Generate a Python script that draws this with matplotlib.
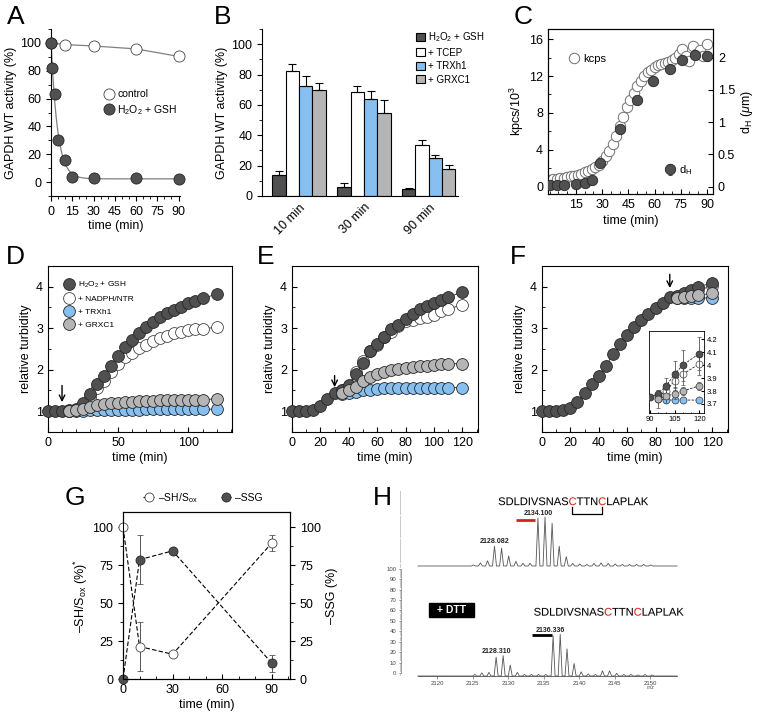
import numpy as np
import matplotlib
matplotlib.use("Agg")
import matplotlib.pyplot as plt
from matplotlib.ticker import MultipleLocator, FuncFormatter
from matplotlib.patches import Rectangle, PathPatch
from matplotlib.path import Path
from matplotlib.textpath import TextPath
from matplotlib.font_manager import FontProperties
from matplotlib.transforms import Affine2D

plt.rcParams['font.family'] = ['Liberation Sans', 'DejaVu Sans']
plt.rcParams['mathtext.fontset'] = 'custom'
plt.rcParams['mathtext.rm'] = 'Liberation Sans'
plt.rcParams['mathtext.it'] = 'Liberation Sans:italic'
plt.rcParams['axes.linewidth'] = 0.8
plt.rcParams['xtick.labelsize'] = 9
plt.rcParams['ytick.labelsize'] = 9
plt.rcParams['axes.labelsize'] = 9
plt.rcParams['xtick.major.size'] = 3.5
plt.rcParams['ytick.major.size'] = 3.5
plt.rcParams['xtick.minor.size'] = 2
plt.rcParams['ytick.minor.size'] = 2

# Colors
DARK = '#505050'
BLUE = '#86bff0'
GRAY = '#b5b5b5'
EDGE = '#262626'
RED = '#e3231c'

#
# Data
#

# A: GAPDH activity
a_t_ctrl = [0, 10, 30, 60, 90]
a_ctrl = [100, 98.8, 97.8, 95.7, 90.3]
a_t_gsh = [0, 1, 2.5, 5, 10, 15, 30, 60, 90]
a_gsh = [100, 82, 63.5, 30.4, 15.9, 3.9, 3.1, 3.1, 1.9]

# B: recovery of activity
b_groups = ['10 min', '30 min', '90 min']
b_names = [r'H$_2$O$_2$ + GSH', '+ TCEP', '+ TRXh1', '+ GRXC1']
b_gsh = [13.7, 6.2, 4.6]
b_gsh_err = [2.8, 2.4, 0.9]
b_tcep = [82.6, 68.3, 33.3]
b_tcep_err = [4.6, 4.2, 3.3]
b_trx = [72.2, 63.7, 25.3]
b_trx_err = [6.8, 5.7, 1.6]
b_grx = [69.8, 55.0, 17.8]
b_grx_err = [4.4, 8.2, 2.7]

# C: light scattering and hydrodynamic diameter
c_t = [0, 2, 4, 6, 8, 10, 12, 14, 16, 18, 20, 22, 24, 26, 28, 30, 32, 34, 36, 38,
       40, 42, 44, 46, 48, 50, 52, 54, 56, 58, 60, 62, 64, 66, 68, 70, 72, 74, 76,
       78, 80, 82, 84, 86, 88, 90]
c_kcps = [0.7, 0.8, 0.85, 0.9, 0.95, 1.0, 1.1, 1.2, 1.3, 1.4, 1.55, 1.7, 1.9, 2.1,
          2.4, 2.8, 3.3, 3.9, 4.6, 5.5, 6.6, 7.6, 8.6, 9.4, 10.2, 10.9, 11.5, 12.0,
          12.4, 12.7, 13.0, 13.2, 13.3, 13.4, 13.5, 13.7, 13.9, 14.4, 14.9, 14.2,
          13.6, 15.3, 14.4, 14.8, 14.2, 15.5]
c_dh_t = [0, 4, 8, 15, 20, 24, 29, 40, 50, 59, 69, 76, 83, 90]
c_dh = [0.03, 0.03, 0.03, 0.04, 0.06, 0.1, 0.37, 0.9, 1.35, 1.64, 1.83, 1.97, 2.04, 2.02]
c_dh_err = [0, 0, 0, 0, 0, 0, 0, 0.03, 0.02, 0.02, 0.06, 0.05, 0.04, 0.07]

# D-F: turbidity, sampled every 5 min then at 120
turb_t = [0, 5, 10, 15, 20, 25, 30, 35, 40, 45, 50, 55, 60, 65, 70, 75, 80, 85, 90,
          95, 100, 105, 110, 120]

d_gsh = [1.0, 1.0, 1.0, 1.02, 1.05, 1.2, 1.42, 1.65, 1.85, 2.08, 2.32, 2.55, 2.72,
         2.88, 3.02, 3.15, 3.27, 3.37, 3.45, 3.52, 3.6, 3.65, 3.72, 3.82]
d_ntr = [1.0, 1.03, 1.15, 1.35, 1.55, 1.72, 1.95, 2.15, 2.3, 2.4, 2.52, 2.6, 2.7,
         2.77, 2.82, 2.88, 2.92, 2.95, 2.97, 2.99, 3.02]
d_trx = [1.0, 1.0, 1.0, 1.02, 1.03, 1.03, 1.04, 1.04, 1.04, 1.04, 1.04, 1.05, 1.05,
         1.05, 1.05, 1.05, 1.05, 1.05, 1.05, 1.05, 1.05]
d_grx = [1.0, 1.02, 1.05, 1.1, 1.14, 1.17, 1.19, 1.21, 1.22, 1.23, 1.24, 1.25, 1.25,
         1.26, 1.26, 1.27, 1.27, 1.28, 1.28, 1.28, 1.3]

e_gsh = [1.0, 1.0, 1.0, 1.02, 1.12, 1.29, 1.45, 1.5, 1.63, 1.89, 2.17, 2.45, 2.62,
         2.8, 2.97, 3.09, 3.22, 3.35, 3.46, 3.54, 3.62, 3.69, 3.75, 3.87]
e_ntr = [1.5, 1.62, 1.95, 2.22, 2.45, 2.6, 2.78, 2.92, 3.05, 3.17, 3.21, 3.25, 3.27,
         3.33, 3.41, 3.46, 3.57]
e_trx = [1.42, 1.44, 1.47, 1.5, 1.52, 1.54, 1.55, 1.55, 1.56, 1.56, 1.56, 1.56, 1.56,
         1.57, 1.57, 1.57, 1.57]
e_grx = [1.45, 1.5, 1.58, 1.73, 1.83, 1.9, 1.95, 2.0, 2.03, 2.05, 2.07, 2.09, 2.1,
         2.11, 2.13, 2.14, 2.15]

f_gsh = [1.0, 1.0, 1.0, 1.02, 1.08, 1.22, 1.43, 1.65, 1.85, 2.1, 2.37, 2.62, 2.83,
         3.03, 3.21, 3.35, 3.49, 3.62, 3.75, 3.78, 3.84, 3.93, 4.0, 4.09]
f_ntr = [3.76, 3.8, 3.88, 3.93, 4.01]
f_trx = [3.74, 3.73, 3.73, 3.73, 3.73]
f_grx = [3.74, 3.76, 3.78, 3.8, 3.84]
f_gsh_err = [0.03, 0.06, 0.1, 0.12, 0.13]
f_ntr_err = [0.03, 0.05, 0.07, 0.08, 0.09]
f_trx_err = [0.01, 0.01, 0.01, 0.01, 0.01]
f_grx_err = [0.07, 0.05, 0.04, 0.03, 0.03]

# G: thiol / glutathionylation state
g_t = [0, 10, 30, 90]
g_sh = [100, 21.4, 16.3, 89.6]
g_sh_err = [0, 16.3, 0, 5.5]
g_ssg = [0, 78.6, 84.4, 10.4]
g_ssg_err = [0, 16.3, 0, 5.7]

# H: MALDI spectra (peak m/z and relative height in %)
h_top_mz = [2125.1, 2126.1, 2127.1, 2128.08, 2129.08, 2130.08, 2131.1, 2132.1, 2133.1,
            2134.2, 2135.2, 2136.2, 2137.2, 2138.2, 2139.1, 2140.1, 2141.1, 2142.1,
            2143.1, 2144.1, 2145.1, 2146.1, 2147.1, 2148.1, 2149.1, 2150.1]
h_top_int = [1, 3, 5, 19, 17, 9.6, 4.5, 2.5, 2.5, 46, 47, 41, 19, 9, 2.5, 2, 1.5, 2.5,
             3, 2.5, 2, 1.5, 1.5, 1.5, 1.5, 1]
h_bot_mz = [2125.3, 2126.3, 2127.3, 2128.31, 2129.3, 2130.3, 2131.3, 2132.3, 2133.3,
            2134.3, 2135.3, 2136.34, 2137.34, 2138.3, 2139.3, 2140.3, 2141.3, 2142.3,
            2143.3, 2144.3, 2145.3, 2146.3, 2147.3, 2148.3, 2149.3, 2150.3]
h_bot_int = [1.5, 3, 3.5, 18, 19.5, 10.5, 3.5, 1.5, 1.5, 1.5, 1.5, 38.5, 40, 26, 12,
             4, 2, 1.5, 5, 5, 2.5, 1.5, 1.5, 1, 1.5, 1]
h_seq = ['SDLDIVSNAS', 'C', 'TTN', 'C', 'LAPLAK']
H_TOP_BASE = 102.6

W, H = 763, 722
DPI = 100


def rect(l, t, r, b):
    # pixel box (left, top, right, bottom) -> figure fraction
    return [l / W, 1 - b / H, (r - l) / W, (b - t) / H]


def exp_fit(t, y):
    # y = A*exp(-k t) + c, k by grid search, A and c by least squares
    best = None
    for k in np.linspace(0.01, 1.0, 500):
        M = np.column_stack([np.exp(-k * t), np.ones_like(t)])
        coef = np.linalg.lstsq(M, y, rcond=None)[0]
        r = np.sum((M @ coef - y) ** 2)
        if best is None or r < best[0]:
            best = (r, k, coef)
    return best[1], best[2]


def circles(ax, x, y, face, ms=8.5, zorder=3, **kw):
    return ax.plot(x, y, 'o', ms=ms, mfc=face, mec=EDGE if face != 'white' else '#444',
                   mew=0.6, zorder=zorder, clip_on=False, **kw)


def panel_letter(x, y, s):
    fig.text(x / W, 1 - y / H, s, fontsize=19, ha='center', va='center')


fig = plt.figure(figsize=(W / DPI, H / DPI), dpi=DPI)

#
# A
#
ax = fig.add_axes(rect(51, 29, 180, 196))
ax.spines[['top', 'right']].set_visible(False)
t_fit = np.linspace(0, 90, 300)
k, coef = exp_fit(np.array(a_t_gsh, float), np.array(a_gsh, float))
ax.plot(t_fit, coef[0] * np.exp(-k * t_fit) + coef[1], color='#808080', lw=0.9, zorder=1)
ax.plot(a_t_ctrl, a_ctrl, color='#808080', lw=0.9, zorder=1)
circles(ax, a_t_ctrl, a_ctrl, 'white', ms=8, label='control')
circles(ax, a_t_gsh, a_gsh, DARK, ms=8, label=r'H$_2$O$_2$ + GSH')
ax.set_xlim(0, 91)
ax.set_ylim(-10, 110)
ax.xaxis.set_major_locator(MultipleLocator(15))
ax.xaxis.set_minor_locator(MultipleLocator(5))
ax.yaxis.set_major_locator(MultipleLocator(20))
ax.yaxis.set_minor_locator(MultipleLocator(10))
ax.set_yticks(range(0, 101, 20))
ax.set_xlabel('time (min)', labelpad=2)
ax.set_ylabel('GAPDH WT activity (%)', labelpad=2)
ax.legend(loc='upper left', bbox_to_anchor=(0.36, 0.67), frameon=False, fontsize=7.5,
          handletextpad=0.2, handlelength=1.2, borderpad=0, labelspacing=0.35)

#
# B
#
ax = fig.add_axes(rect(262, 29, 458, 196))
ax.spines[['top', 'right']].set_visible(False)
x = np.arange(len(b_groups))
bw = 0.205
series = [(b_gsh, b_gsh_err, DARK), (b_tcep, b_tcep_err, 'white'),
          (b_trx, b_trx_err, BLUE), (b_grx, b_grx_err, GRAY)]
for i, (vals, err, col) in enumerate(series):
    ax.bar(x + (i - 1.5) * bw, vals, bw, color=col, edgecolor='black', lw=0.8,
           yerr=[np.zeros(len(err)), err], error_kw=dict(lw=0.8, capsize=3, capthick=0.8),
           label=b_names[i])
ax.set_xlim(-0.57, 2.45)
ax.set_ylim(0, 110)
ax.set_yticks(range(0, 101, 20))
ax.yaxis.set_minor_locator(MultipleLocator(10))
ax.set_xticks(x)
ax.set_xticklabels(b_groups, rotation=45, ha='right', rotation_mode='anchor')
ax.tick_params(axis='x', length=0, pad=4)
ax.set_ylabel('GAPDH WT activity (%)', labelpad=2)
ax.legend(loc='upper left', bbox_to_anchor=(0.76, 1.02), frameon=False, fontsize=7,
          handlelength=0.9, handleheight=0.9, handletextpad=0.4, labelspacing=0.35,
          borderpad=0)

#
# C
#
ax = fig.add_axes(rect(548, 29, 713, 194))
ax2 = ax.twinx()
l1, = ax.plot(c_t, c_kcps, 'o', ms=7.5, mfc='white', mec='#707070', mew=0.7,
              zorder=2, label='kcps')
ax2.errorbar(c_dh_t, c_dh, yerr=c_dh_err, fmt='o', ms=7.5, mfc=DARK, mec=EDGE, mew=0.6,
             ecolor='#333', elinewidth=0.7, capsize=1.5, zorder=3, label=r'd$_{\rm H}$')
ax.set_xlim(-1, 93.5)
ax.set_ylim(-0.8, 17.1)
ax2.set_ylim(-0.8 / 7, 17.1 / 7)
ax.xaxis.set_major_locator(MultipleLocator(15))
ax.xaxis.set_minor_locator(MultipleLocator(5))
ax.set_xticks(range(15, 91, 15))
ax.yaxis.set_major_locator(MultipleLocator(4))
ax.yaxis.set_minor_locator(MultipleLocator(2))
ax2.yaxis.set_major_locator(MultipleLocator(0.5))
ax2.yaxis.set_major_formatter(FuncFormatter(lambda v, p: f'{v:g}'))
ax.tick_params(which='both', direction='in')
ax2.tick_params(which='both', direction='in')
ax.set_xlabel('time (min)', labelpad=3)
ax.set_ylabel(r'kpcs/10$^3$', labelpad=2)
ax2.set_ylabel(r'd$_{\rm H}$ ($\mu$m)', labelpad=3)
ax.legend(handles=[l1], loc='center left', bbox_to_anchor=(0.09, 0.82), frameon=False,
          fontsize=8, handlelength=1.0, handletextpad=0.3, borderpad=0)
ax2.legend(loc='center left', bbox_to_anchor=(0.67, 0.145), frameon=False,
           fontsize=8, handlelength=1.0, handletextpad=0.3, borderpad=0)

#
# D-F
#


def turbidity(box, gsh, ntr, trx, grx, start, arrow, xmajor, legend=False):
    ax = fig.add_axes(rect(*box))
    t_add = turb_t[start:]
    kw = dict(color='#222', lw=0.6)
    ax.plot(t_add, ntr, **kw, zorder=2)
    circles(ax, t_add, ntr, 'white', zorder=2, label='+ NADPH/NTR')
    ax.plot(turb_t, gsh, **kw, zorder=3)
    circles(ax, turb_t, gsh, DARK, zorder=3, label=r'H$_2$O$_2$ + GSH')
    ax.plot(t_add, trx, **kw, zorder=4)
    circles(ax, t_add, trx, BLUE, zorder=4, label='+ TRXh1')
    ax.plot(t_add, grx, **kw, zorder=5)
    circles(ax, t_add, grx, GRAY, zorder=5, label='+ GRXC1')
    ax.annotate('', xy=(arrow[0], arrow[2]), xytext=(arrow[0], arrow[1]),
                arrowprops=dict(arrowstyle='->', lw=1.0, color='black',
                                shrinkA=0, shrinkB=0))
    ax.set_xlim(0, 131)
    ax.set_ylim(0.5, 4.5)
    ax.xaxis.set_major_locator(MultipleLocator(xmajor))
    ax.xaxis.set_minor_locator(MultipleLocator(10))
    ax.yaxis.set_major_locator(MultipleLocator(1))
    ax.yaxis.set_minor_locator(MultipleLocator(0.5))
    ax.tick_params(which='both', direction='in')
    ax.set_xlabel('time (min)', labelpad=2)
    ax.set_ylabel('relative turbidity', labelpad=3)
    if legend:
        h, lab = ax.get_legend_handles_labels()
        order = [1, 0, 2, 3]
        ax.legend([h[i] for i in order], [lab[i] for i in order], loc='upper left',
                  bbox_to_anchor=(0.07, 0.94), frameon=False, fontsize=6,
                  handlelength=1.0, handletextpad=0.5, labelspacing=0.6, borderpad=0)
    return ax


turbidity((48, 266, 232, 432), d_gsh, d_ntr, d_trx, d_grx, 3, (10, 1.62, 1.22), 50,
          legend=True)
turbidity((292, 266, 478, 432), e_gsh, e_ntr, e_trx, e_grx, 7, (30, 1.86, 1.58), 20)
turbidity((542, 266, 728, 432), f_gsh, f_ntr, f_trx, f_grx, 19, (90, 4.3, 3.97), 20)

# F inset
ins = fig.add_axes(rect(649, 331, 704, 413))
t_in = turb_t[18:]
t_add = turb_t[19:]
ekw = dict(ecolor='#555', elinewidth=0.6, capsize=1.5, capthick=0.6, ms=5, mew=0.5,
           ls=(0, (3, 1.5)), lw=0.6, color='#222')
ins.errorbar(t_add, f_ntr, yerr=f_ntr_err, fmt='o', mfc='white', mec='#444', zorder=2, **ekw)
ins.errorbar(t_in, f_gsh[18:], yerr=[0] + f_gsh_err, fmt='o', mfc=DARK, mec=EDGE,
             zorder=3, **ekw)
ins.errorbar(t_add, f_trx, yerr=f_trx_err, fmt='o', mfc=BLUE, mec='#333', zorder=4, **ekw)
ins.errorbar(t_add, f_grx, yerr=f_grx_err, fmt='o', mfc=GRAY, mec='#333', zorder=5, **ekw)
ins.set_xlim(89.6, 122.8)
ins.set_ylim(3.63, 4.264)
ins.set_xticks([90, 105, 120])
ins.xaxis.set_minor_locator(MultipleLocator(5))
ins.yaxis.tick_right()
ins.set_yticks([3.7, 3.8, 3.9, 4.0, 4.1, 4.2])
ins.yaxis.set_major_formatter(FuncFormatter(lambda v, p: f'{v:g}'))
ins.tick_params(which='both', direction='in', labelsize=5.5, length=2, pad=2)
ins.tick_params(which='minor', length=1)
for s in ins.spines.values():
    s.set_linewidth(0.6)

#
# G
#
ax = fig.add_axes(rect(123, 512, 290, 679))
ax.errorbar(g_t, g_sh, yerr=g_sh_err, fmt='o', ms=6.5, mfc='white', mec='#444', mew=0.6,
            color='black', ls=(0, (4, 2)), lw=0.8, ecolor='#555', elinewidth=0.7,
            capsize=2.5, capthick=0.7, clip_on=False, zorder=3, label='\u2013SH/S$_{\\rm ox}$')
ax.errorbar(g_t, g_ssg, yerr=g_ssg_err, fmt='o', ms=6.5, mfc=DARK, mec=EDGE, mew=0.6,
            color='black', ls=(0, (4, 2)), lw=0.8, ecolor='#555', elinewidth=0.7,
            capsize=2.5, capthick=0.7, clip_on=False, zorder=3, label='\u2013SSG')
ax.set_xlim(0, 101)
ax.set_ylim(0, 110)
ax.set_xticks([0, 30, 60, 90])
ax.xaxis.set_minor_locator(MultipleLocator(10))
ax.set_yticks([0, 25, 50, 75, 100])
ax.yaxis.set_minor_locator(MultipleLocator(12.5))
ax.tick_params(axis='x', which='both', direction='in', top=False)
ax.tick_params(axis='y', which='both', direction='out')
ax.set_xlabel('time (min)', labelpad=2)
ax.set_ylabel('\u2013SH/S$_{\\rm ox}$ (%)$^{*}$', labelpad=2)
h, lab = ax.get_legend_handles_labels()
h = [x[0] for x in h]
ax.legend(h, lab, loc='lower center', bbox_to_anchor=(0.48, 1.0), ncol=2, frameon=False,
          fontsize=7.5, handlelength=1.0, handletextpad=0.4, columnspacing=2.2,
          borderpad=0.2)
ax2 = ax.twinx()
ax2.set_ylim(0, 110)
ax2.set_yticks([0, 25, 50, 75, 100])
ax2.yaxis.set_minor_locator(MultipleLocator(12.5))
ax2.tick_params(which='both', direction='out')
ax2.set_ylabel('\u2013SSG (%)', labelpad=4)

#
# H
#
ax = fig.add_axes(rect(418, 490.5, 677, 676))
ax.set_xlim(2117.3, 2153.8)
ax.set_ylim(-2.9, 175)
for s in ['top', 'right']:
    ax.spines[s].set_visible(False)
ax.spines['left'].set_position(('axes', -0.066))
ax.spines['left'].set_bounds(0, 100)
ax.spines['left'].set_linewidth(0.5)
ax.spines['left'].set_color('#777')
ax.spines['bottom'].set_linewidth(0.6)
ax.spines['bottom'].set_color('#555')
ax.set_yticks(range(0, 101, 10))
ax.yaxis.set_minor_locator(MultipleLocator(2))
ax.set_xticks(range(2120, 2151, 5))
ax.xaxis.set_minor_locator(MultipleLocator(1))
ax.tick_params(labelsize=4.3, length=1.8, width=0.4, pad=1.5, colors='#444')
ax.tick_params(which='minor', length=1, width=0.3)


def trace(mz, inten, base, w=0.28):
    xs, ys = [2117.3], [base]
    for p, hgt in zip(mz, inten):
        xs += [p - w, p, p + w]
        ys += [base, base + hgt, base]
    xs.append(2153.8)
    ys.append(base)
    return xs, ys


ax.plot(*trace(h_top_mz, h_top_int, H_TOP_BASE), color='#555', lw=0.6, clip_on=False)
ax.plot(*trace(h_bot_mz, h_bot_int, -2.9), color='#555', lw=0.6, clip_on=False)

SEQ_SIZE = 8.0
SEQ_FP = FontProperties(family='Liberation Sans')


def sequence(x, y):
    # one text outline, cut at glyph boundaries so the two C's can be red
    full = ''.join(h_seq)
    tp = TextPath((0, 0), full, size=SEQ_SIZE, prop=SEQ_FP)
    verts, codes = tp.vertices, tp.codes
    x0, y0 = ax.transData.transform((x, y))
    tr = Affine2D().scale(DPI / 72).translate(x0, y0)
    inv = ax.transData.inverted()
    pos, start = 0, 0
    c_mid = []
    for seg in h_seq:
        pos += len(seg)
        end = len(TextPath((0, 0), full[:pos], size=SEQ_SIZE, prop=SEQ_FP).vertices)
        v = verts[start:end]
        col = RED if seg == 'C' else 'black'
        ax.add_artist(PathPatch(Path(v, codes[start:end]), transform=tr, facecolor=col,
                                edgecolor=col, lw=0.05, clip_on=False))
        if seg == 'C':
            xm = (v[:, 0].min() + v[:, 0].max()) / 2
            c_mid.append(inv.transform(tr.transform((xm, 0)))[0])
        start = end
    return c_mid


c_top = sequence(2128.6, 161)
sequence(2133.6, 55)
ax.plot([c_top[0], c_top[0], c_top[1], c_top[1]], [159, 152.5, 152.5, 159], color='black',
        lw=0.9, clip_on=False)
lab = dict(fontsize=5, fontweight='bold', ha='center', va='center', color='#222')
ax.text(2134.2, 152.5, '2134.100', **lab)
ax.plot([2131.1, 2133.8], [147, 147], color='#d42020', lw=2, solid_capstyle='butt',
        clip_on=False)
ax.text(2128.04, 126, '2128.082', **lab)
ax.text(2136.0, 40.3, '2136.336', **lab)
ax.plot([2133.4, 2136.2], [36, 36], color='black', lw=2, solid_capstyle='butt')
ax.text(2128.4, 21, '2128.310', **lab)
ax.add_patch(Rectangle((2118.8, 53.4), 6.4, 14, color='black', zorder=4))
ax.text(2122.0, 60.4, '+ DTT', fontsize=7.5, fontweight='bold', color='white',
        ha='center', va='center', zorder=5)
ax.text(2150.1, -13.7, 'm/z', fontsize=3.5, style='italic', ha='center', va='center',
        color='#444')

# Panel letters
for (px, py, s) in [(16, 17, 'A'), (223, 17, 'B'), (523, 17, 'C'), (15, 257, 'D'),
                    (266, 257, 'E'), (518, 257, 'F'), (75, 498, 'G'), (382, 498, 'H')]:
    panel_letter(px, py, s)

fig.savefig('out.png', dpi=DPI)
